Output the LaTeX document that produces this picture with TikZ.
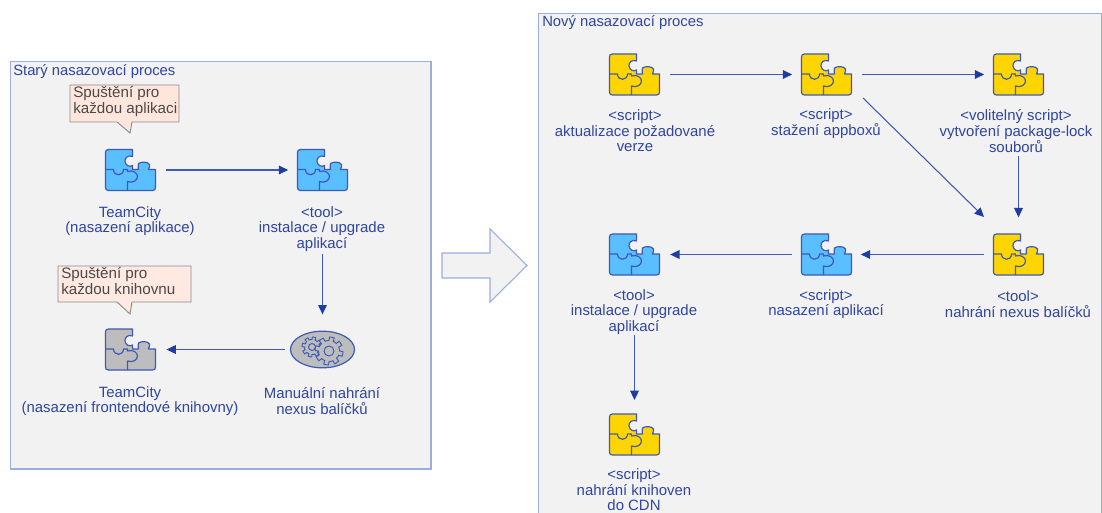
\documentclass[tikz,border=0pt]{standalone}
\usepackage{fontspec}
\setmainfont{Liberation Sans}
\usetikzlibrary{arrows.meta,shapes.geometric}
\definecolor{bordc}{HTML}{9DAEDD}
\definecolor{panelc}{HTML}{F2F2F2}
\definecolor{inkc}{HTML}{2F45A0}
\definecolor{edgec}{HTML}{4059B5}
\definecolor{tipc}{HTML}{1E3CA6}
\definecolor{bluec}{HTML}{59BFFF}
\definecolor{yellowc}{HTML}{FFD500}
\definecolor{grayc}{HTML}{BDBDBD}
\definecolor{noteA}{HTML}{FFE6DC}
\definecolor{noteB}{HTML}{FFE9E1}
\definecolor{noteline}{HTML}{8A8A8A}
\definecolor{notetext}{HTML}{4A4A4A}
\tikzset{
  x=0.75pt,y=-0.75pt,
  panel/.style={draw=bordc,fill=panelc,line width=0.8pt},
  lbl/.style={align=center,inner sep=0pt,text=inkc,font=\fontsize{11.2}{11.7}\selectfont},
  ttl/.style={anchor=west,inner sep=0pt,text=inkc,font=\fontsize{11.1}{12}\selectfont},
  iconbox/.style={minimum width=37.5pt,minimum height=30.75pt,inner sep=0pt,outer sep=0pt},
  flow/.style={draw=edgec,line width=0.8pt,-{Triangle[length=7pt,width=6.5pt,color=tipc]},shorten >=7pt,shorten <=8.2pt},
  note/.style={draw=noteline,line width=0.7pt},
  notetxt/.style={anchor=north west,align=left,inner sep=0pt,text=notetext,font=\fontsize{11.4}{11.7}\selectfont},
  pz/.style={draw=edgec,line width=0.9pt,line join=round},
}
% icon: name, left x, top y, colour
\newcommand{\puzzle}[4]{%
  \node[iconbox] (#1) at (#2+25.5,#3+20.5) {};
  \begin{scope}[shift={(#2+0.5,#3)}]
    \filldraw[pz,fill=#4] (0,3) .. controls (0,1) and (1,0) .. (3,0) -- (27,0) -- (27,7)
      .. controls (22,5) and (19,9) .. (19.5,12) .. controls (20,16) and (24,18) .. (27,16)
      -- (27,20) -- (33,20) .. controls (34,18) and (31,16) .. (33,14)
      .. controls (36,12) and (42,12) .. (44,15) .. controls (45,17) and (43,18) .. (43,20)
      -- (50,20) -- (50,38) .. controls (50,40) and (49,41) .. (47,41) -- (3,41)
      .. controls (1,41) and (0,40) .. (0,38) -- cycle;
    \draw[pz] (0,20) -- (8,20) .. controls (8,27) and (18,27) .. (18,20) -- (22,20) -- (22,22)
      .. controls (28,20) and (32,24) .. (32,27) .. controls (32,31) and (27,34) .. (22,32) -- (22,41);
  \end{scope}}
\begin{document}
\begin{tikzpicture}
\useasboundingbox[fill=white] (0,0) rectangle (1102,513);
% panels
\filldraw[panel] (10.5,61.5) rectangle (431,469);
\path[fill=panelc] (538.5,513) -- (538.5,13.5) -- (1101.5,13.5) -- (1101.5,513) -- cycle;
\draw[draw=bordc,line width=0.8pt] (538.5,513) -- (538.5,13.5) -- (1101.5,13.5) -- (1101.5,513);
\node[ttl] (oldt) at (13,72) {Starý nasazovací proces};
\node[ttl] (newt) at (542,23) {Nový nasazovací proces};
% big arrow
\filldraw[draw=bordc,fill=panelc,line width=0.8pt] (442,253) -- (490,253) -- (490,229) -- (527,265.5) -- (490,302) -- (490,278) -- (442,278) -- cycle;
% notes
\filldraw[note,fill=noteA] (70,85) -- (179,85) -- (179,122) -- (132,122) -- (130,133) -- (117,122) -- (70,122) -- cycle;
\node[notetxt] (n1) at (73,86.5) {Spuštění pro\\každou aplikaci};
\filldraw[note,fill=noteB] (58,266) -- (191,266) -- (191,302) -- (132,302) -- (130,314) -- (117,302) -- (58,302) -- cycle;
\node[notetxt] (n2) at (61,267.5) {Spuštění pro\\každou knihovnu};
% left icons
\puzzle{tc}{105}{149.5}{bluec}
\puzzle{tool}{297}{149.5}{bluec}
\puzzle{tcf}{105}{329}{grayc}
% ellipse with gears
\node[draw=edgec,fill=grayc,line width=0.9pt,ellipse,minimum width=48pt,minimum height=27.5pt,inner sep=0pt] (man) at (322.5,349.5) {};
\draw[edgec,line width=0.7pt] plot[domain=0:360,samples=181] ({312+(7.5+2.5*(sin(8*\x)>0))*cos(\x)},{347+(7.5+2.5*(sin(8*\x)>0))*sin(\x)}) -- cycle;
\draw[edgec,line width=0.7pt] (312,347) circle[radius=3.5];
\draw[edgec,line width=0.7pt,fill=grayc] plot[domain=0:360,samples=181] ({329+(10.5+3.5*(sin(8*\x)>0))*cos(\x)},{351+(10.5+3.5*(sin(8*\x)>0))*sin(\x)}) -- cycle;
\draw[edgec,line width=0.7pt] (329,351) circle[radius=5];
% right icons
\puzzle{a}{609}{54}{yellowc}
\puzzle{b}{801}{54}{yellowc}
\puzzle{c}{993}{54}{yellowc}
\puzzle{d}{993}{234}{yellowc}
\puzzle{e}{801}{234}{bluec}
\puzzle{f}{609}{234}{bluec}
\puzzle{g}{609}{414}{yellowc}
% labels
\node[lbl] (ltc) at (130,221) {TeamCity\\(nasazení aplikace)};
\node[lbl] (ltool) at (322,229) {<tool>\\instalace / upgrade\\aplikací};
\node[lbl] (lman) at (322,401) {Manuální nahrání\\nexus balíčků};
\node[lbl] (ltcf) at (130,401) {TeamCity\\(nasazení frontendové knihovny)};
\node[lbl] (la) at (635,131) {<script>\\aktualizace požadované\\verze};
\node[lbl] (lb) at (826,123.5) {<script>\\stažení appboxů};
\node[lbl] (lc) at (1016,131) {<volitelný script>\\vytvoření package-lock\\souborů};
\node[lbl] (lf) at (634,312) {<tool>\\instalace / upgrade\\aplikací};
\node[lbl] (le) at (826,304) {<script>\\nasazení aplikací};
\node[lbl] (ld) at (1018,304) {<tool>\\nahrání nexus balíčků};
\node[lbl] (lg) at (634,490) {<script>\\nahrání knihoven\\do CDN};
% connectors
\coordinate (toolout) at (322.5,254);
\coordinate (manin) at (322.5,331);
\coordinate (fout) at (634.5,335);
\coordinate (gin) at (634.5,414);
\coordinate (cout) at (1018.5,156);
\coordinate (din) at (1018.5,234);
\coordinate (bout) at (863,98);
\coordinate (din2) at (984,217);
\draw[flow] (tc.east) -- (tool.west);
\draw[flow,shorten <=0pt,shorten >=12.5pt] (toolout) -- (manin);
\draw[flow,shorten <=3.7pt,shorten >=8.2pt] (man.west) -- (man.west -| tcf.east);
\draw[flow] (a.east) -- (b.west);
\draw[flow] (b.east) -- (c.west);
\draw[flow,shorten <=0pt,shorten >=0pt] (bout) -- (din2);
\draw[flow,shorten <=0pt,shorten >=12.5pt] (cout) -- (din);
\draw[flow,shorten <=7pt,shorten >=7pt] (d.west) -- (e.east);
\draw[flow,shorten <=7pt,shorten >=8pt] (e.west) -- (f.east);
\draw[flow,shorten <=0pt,shorten >=10.5pt] (fout) -- (gin);
\end{tikzpicture}
\end{document}
